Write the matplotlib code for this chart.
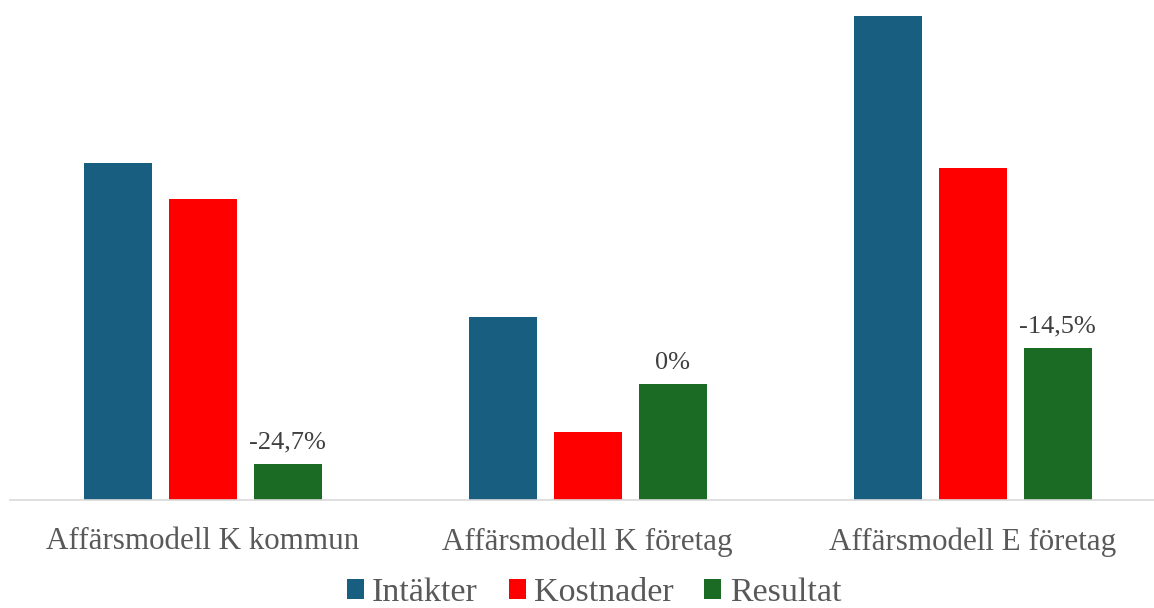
import matplotlib.pyplot as plt
import numpy as np

plt.rcParams['font.family'] = ['Liberation Serif', 'DejaVu Serif']

# Data
categories = ['Affärsmodell K kommun', 'Affärsmodell K företag', 'Affärsmodell E företag']
intakter = [337, 183, 484]
kostnader = [301, 68, 332]
resultat = [36, 116, 152]
resultat_labels = ['-24,7%', '0%', '-14,5%']

series = ['Intäkter', 'Kostnader', 'Resultat']
colors = ['#175e80', '#ff0000', '#1b6b24']
text_color = '#595959'

fig = plt.figure(figsize=(11.54, 6.08), dpi=100)
ax = fig.add_axes([10 / 1154, 108.5 / 608, 1155 / 1154, 499.5 / 608])

x = np.arange(len(categories))
offset = 85 / 385
width = 68 / 385

for i, (vals, name, col) in enumerate(zip([intakter, kostnader, resultat], series, colors)):
    ax.bar(x + (i - 1) * offset, vals, width, color=col, label=name)

for xi, v, lab in zip(x, resultat, resultat_labels):
    ax.annotate(lab, (xi + offset, v), xytext=(0, 7), textcoords='offset points',
                ha='center', va='bottom', fontsize=19, color='#404040')

ax.set_xlim(-0.5, 2.5)
ax.set_ylim(0, 499.5)
ax.set_xticks(x)
ax.set_xticklabels(categories, fontsize=22.3, color=text_color)
ax.tick_params(axis='x', length=0, pad=20)
ax.set_yticks([])
for s in ['top', 'right', 'left']:
    ax.spines[s].set_visible(False)
ax.spines['bottom'].set_color('#d9d9d9')
ax.spines['bottom'].set_linewidth(1.2)

fig.legend(loc='center', bbox_to_anchor=(594 / 1154, 15 / 608), ncol=3, frameon=False,
           fontsize=24.5, labelcolor=text_color, handlelength=0.5, handleheight=0.5,
           handletextpad=0.25, columnspacing=0.9)

fig.savefig('out.png', dpi=100, facecolor='white')
